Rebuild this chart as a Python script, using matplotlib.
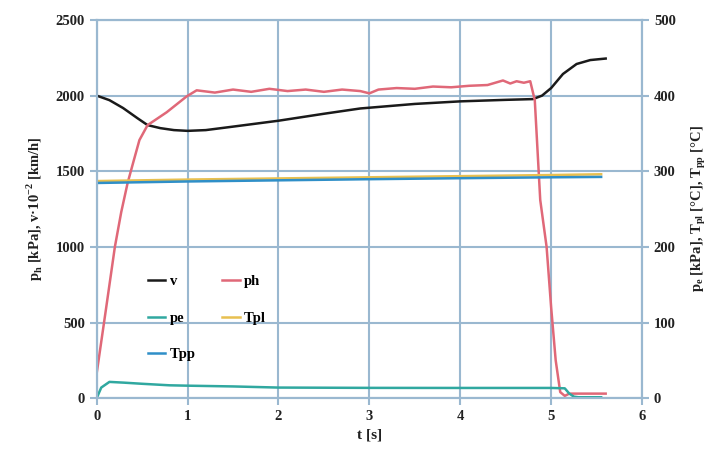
import matplotlib.pyplot as plt

plt.rcParams['font.family'] = 'Liberation Serif'
plt.rcParams['font.weight'] = 'bold'
plt.rcParams['mathtext.fontset'] = 'custom'
plt.rcParams['mathtext.rm'] = 'Liberation Serif:bold'

# left axis series
t_v = [0, 0.14, 0.29, 0.45, 0.56, 0.7, 0.85, 1.0, 1.2, 1.5, 2.0, 2.5, 2.9, 3.5, 4.0, 4.5, 4.8, 4.9, 5.0, 5.13, 5.28, 5.43, 5.6]
v = [2000, 1970, 1918, 1850, 1805, 1785, 1772, 1767, 1772, 1795, 1834, 1880, 1915, 1945, 1962, 1972, 1977, 2000, 2050, 2143, 2209, 2235, 2245]

t_ph = [0, 0.1, 0.2, 0.27, 0.34, 0.4, 0.47, 0.56, 0.77, 0.99, 1.1, 1.3, 1.5, 1.7, 1.9, 2.1, 2.3, 2.5,
        2.7, 2.9, 3.0, 3.1, 3.3, 3.5, 3.7, 3.9, 4.1, 4.3, 4.47, 4.55, 4.62, 4.7, 4.77, 4.82, 4.88, 4.95,
        5.0, 5.05, 5.1, 5.15, 5.2, 5.6]
ph = [165, 580, 1000, 1230, 1422, 1554, 1706, 1805, 1890, 1995, 2035, 2020, 2040, 2025, 2045, 2030, 2040, 2025,
      2040, 2030, 2015, 2040, 2050, 2045, 2060, 2055, 2065, 2070, 2100, 2080, 2095, 2085, 2095, 1970, 1310, 1000,
      600, 250, 40, 15, 30, 30]

# right axis series
t_pe = [0, 0.05, 0.14, 0.3, 0.5, 0.8, 1.0, 1.5, 2.0, 2.5, 3.0, 4.0, 5.0, 5.15, 5.2, 5.25, 5.3, 5.55]
pe = [0, 14, 21.5, 20.5, 19, 17, 16.5, 15.5, 14, 13.8, 13.6, 13.5, 13.5, 13, 6, 2, 1.2, 1.2]

t_T = [0, 1, 2, 3, 4, 5, 5.55]
Tpl = [287, 289, 290.5, 292, 293.5, 295, 296]
Tpp = [284.5, 286.5, 288, 289.5, 290.8, 292, 292.5]

grid_c = '#9ab8d0'

fig = plt.figure(figsize=(7.11, 4.54), dpi=100)
ax = fig.add_axes([0.136, 0.123, 0.767, 0.833])
ax2 = ax.twinx()

l_v, = ax.plot(t_v, v, color='#1a1a1a', lw=1.8, label='v')
l_ph, = ax.plot(t_ph, ph, color='#e06878', lw=1.8, label='ph')
l_tpl, = ax2.plot(t_T, Tpl, color='#e8c050', lw=1.8, label='Tpl')
l_tpp, = ax2.plot(t_T, Tpp, color='#2f8fc8', lw=1.8, label='Tpp')
l_pe, = ax2.plot(t_pe, pe, color='#30a8a0', lw=1.8, label='pe')

ax.set_xlim(0, 6)
ax.set_ylim(0, 2500)
ax2.set_ylim(0, 500)
ax.set_xticks(range(7))
ax.set_yticks(range(0, 2501, 500))
ax2.set_yticks(range(0, 501, 100))
ax.grid(True, color=grid_c, lw=1.5)
ax.set_axisbelow(True)
for a in (ax, ax2):
    for s in a.spines.values():
        s.set_color(grid_c)
        s.set_linewidth(1.5)
    a.tick_params(colors=grid_c, labelcolor='#222222', labelsize=10.5, length=5, width=1.5)

ax.set_xlabel('t [s]', fontsize=11, fontweight='bold', color='#222222')
ax.set_ylabel(r'p$_\mathregular{h}$ [kPa], v·10$^\mathregular{-2}$ [km/h]', fontsize=10.5,
              fontweight='bold', color='#222222', labelpad=8)
ax2.set_ylabel(r'p$_\mathregular{e}$ [kPa], T$_\mathregular{pl}$ [°C], T$_\mathregular{pp}$ [°C]', fontsize=10.5,
               fontweight='bold', color='#222222', labelpad=10)

ax2.legend([l_v, l_pe, l_tpp, l_ph, l_tpl], ['v', 'pe', 'Tpp', 'ph', 'Tpl'], ncol=2, frameon=False,
           loc='upper left', bbox_to_anchor=(0.07, 0.36), handlelength=1.2, handletextpad=0.3,
           labelspacing=1.6, columnspacing=1.8, prop={'family': 'Liberation Serif', 'weight': 'bold', 'size': 10.5})

plt.savefig('out.png', dpi=100)
